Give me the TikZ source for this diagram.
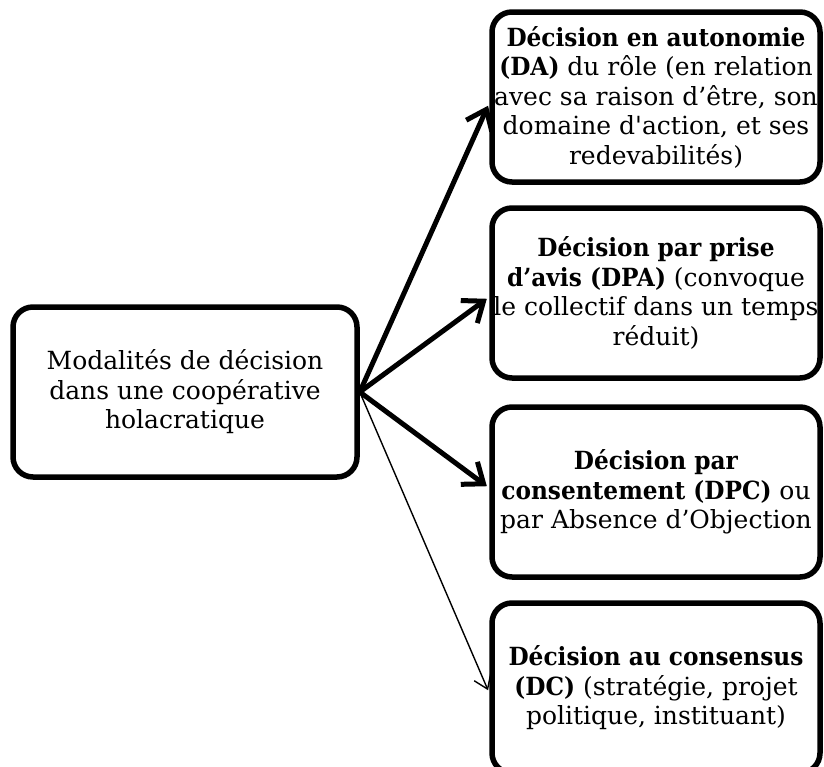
\documentclass[tikz,border=0pt]{standalone}
\usepackage{fontspec}
\setmainfont{DejaVu Serif}[Ligatures=TeXOff, BoldFeatures={FakeStretch=0.93}]
\usetikzlibrary{arrows.meta}
\tikzset{
  box/.style={draw, line width=5.5pt, rounded corners=20pt, align=center,
    inner sep=0pt, font=\fontsize{25}{29.5}\selectfont},
  rbox/.style={box, minimum width=328pt, minimum height=170pt},
  thickarrow/.style={line width=5pt, -{Straight Barb[length=18pt,width=28pt,line width=5pt]}, shorten >=3pt},
  thinarrow/.style={line width=1.4pt, -{Straight Barb[length=13pt,width=18pt,line width=1.4pt]}, shorten >=3pt}
}
\begin{document}
\begin{tikzpicture}[x=1pt,y=-1pt]
\useasboundingbox (0,0) rectangle (824,766);
\begin{scope}
\clip (0,0) rectangle (824,766);
\node[box, minimum width=344pt, minimum height=170pt] (L) at (185,392)
  {Modalités de décision\\ dans une coopérative\\ holacratique};
\node[rbox] (R1) at (656,97)
  {\textbf{Décision en autonomie}\\ \textbf{(DA)} du rôle (en relation\\ avec sa raison d’être, son\\ domaine d'action, et ses\\ redevabilités)};
\node[rbox] (R2) at (656,293)
  {\textbf{Décision par prise}\\ \textbf{d’avis (DPA)} (convoque\\ le collectif dans un temps\\ réduit)};
\node[rbox] (R3) at (656,492)
  {\textbf{Décision par}\\ \textbf{consentement (DPC)} ou\\ par Absence d’Objection};
\node[rbox] (R4) at (656,688)
  {\textbf{Décision au consensus}\\ \textbf{(DC)} (stratégie, projet\\ politique, instituant)};
\draw[thickarrow] (L.east) -- ([yshift=-6pt]R1.west);
\draw[thickarrow] (L.east) -- ([yshift=-4pt]R2.west);
\draw[thickarrow] (L.east) -- ([yshift=4pt]R3.west);
\draw[thinarrow] (L.east) -- ([yshift=-5pt]R4.west);
\end{scope}
\end{tikzpicture}
\end{document}
